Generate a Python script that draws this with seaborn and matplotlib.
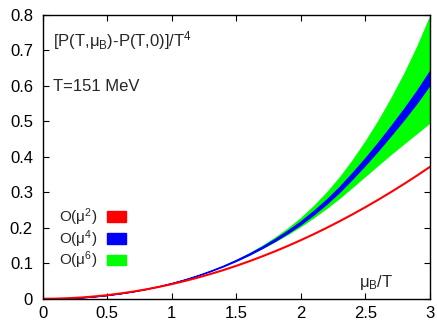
import matplotlib

matplotlib.use("Agg")

import matplotlib.pyplot as plt
import pandas as pd
import seaborn as sns
from matplotlib.patches import Patch
from matplotlib.ticker import FormatStrFormatter, MultipleLocator

# mu_B/T grid (step 0.1)
mu_over_t = [0.0, 0.1, 0.2, 0.3, 0.4, 0.5, 0.6, 0.7, 0.8, 0.9,
             1.0, 1.1, 1.2, 1.3, 1.4, 1.5, 1.6, 1.7, 1.8, 1.9,
             2.0, 2.1, 2.2, 2.3, 2.4, 2.5, 2.6, 2.7, 2.8, 2.9, 3.0]

# O(mu^2): single red line
order2 = [0.0, 0.0004, 0.0017, 0.0037, 0.0066, 0.0103, 0.0149, 0.0202, 0.0264, 0.0335,
          0.0413, 0.0500, 0.0595, 0.0698, 0.0809, 0.0929, 0.1057, 0.1194, 0.1338, 0.1491,
          0.1652, 0.1821, 0.1999, 0.2185, 0.2379, 0.2581, 0.2792, 0.3011, 0.3238, 0.3473,
          0.3717]

# O(mu^4): blue band, centre and half width
order4 = [0.0, 0.0004, 0.0017, 0.0037, 0.0067, 0.0105, 0.0153, 0.0209, 0.0277, 0.0355,
          0.0444, 0.0545, 0.0659, 0.0786, 0.0927, 0.1085, 0.1259, 0.1451, 0.1661, 0.1892,
          0.2145, 0.2430, 0.2741, 0.3087, 0.3471, 0.3874, 0.4300, 0.4748, 0.5211, 0.5701,
          0.6232]
order4_err = [0.0, 0.0, 0.0, 0.0, 0.0, 0.0001, 0.0001, 0.0002, 0.0002, 0.0003,
              0.0004, 0.0006, 0.0007, 0.0010, 0.0012, 0.0016, 0.0020, 0.0024, 0.0030, 0.0036,
              0.0043, 0.0052, 0.0061, 0.0072, 0.0085, 0.0098, 0.0114, 0.0131, 0.0151, 0.0172,
              0.0196]

# O(mu^6): green band, lower and upper edge
order6_low = [0.0, 0.0004, 0.0017, 0.0037, 0.0067, 0.0105, 0.0153, 0.0209, 0.0277, 0.0355,
              0.0442, 0.0542, 0.0654, 0.0778, 0.0914, 0.1065, 0.1230, 0.1409, 0.1601, 0.1809,
              0.2032, 0.2279, 0.2542, 0.2827, 0.3135, 0.3445, 0.3757, 0.4067, 0.4363, 0.4655,
              0.4950]
order6_high = [0.0, 0.0004, 0.0017, 0.0037, 0.0067, 0.0105, 0.0153, 0.0209, 0.0278, 0.0356,
               0.0446, 0.0549, 0.0666, 0.0798, 0.0945, 0.1113, 0.1300, 0.1510, 0.1744, 0.2006,
               0.2300, 0.2638, 0.3016, 0.3446, 0.3934, 0.4466, 0.5049, 0.5688, 0.6380, 0.7143,
               0.8000]

df = pd.DataFrame({
    "x": mu_over_t,
    "o2": order2,
    "o4": order4,
    "o4_err": order4_err,
    "o6_low": order6_low,
    "o6_high": order6_high,
})

sns.set_theme(style="ticks")
plt.rcParams["font.family"] = ["Liberation Sans", "DejaVu Sans"]
plt.rcParams["mathtext.default"] = "regular"
plt.rcParams["font.size"] = 12

fig = plt.figure(figsize=(4.38, 3.21), dpi=100)
ax = fig.add_axes([0.0975, 0.0692, 0.8842, 0.8847])

ax.fill_between(df["x"], df["o6_low"], df["o6_high"], color="#00ff00", linewidth=0)
ax.fill_between(df["x"], df["o4"] - df["o4_err"], df["o4"] + df["o4_err"],
                color="#0000ff", edgecolor="#0000ff", linewidth=0.8)
sns.lineplot(data=df, x="x", y="o2", ax=ax, color="#ff0000", linewidth=1.5)

ax.set_xlim(0, 3)
ax.set_ylim(0, 0.8)
ax.xaxis.set_major_locator(MultipleLocator(0.5))
ax.yaxis.set_major_locator(MultipleLocator(0.1))
ax.xaxis.set_major_formatter(FormatStrFormatter("%g"))
ax.yaxis.set_major_formatter(FormatStrFormatter("%g"))
ax.tick_params(axis="both", direction="in", top=True, right=True, length=4, width=0.8,
               labelsize=12, colors="black")
ax.tick_params(axis="x", pad=5)
ax.tick_params(axis="y", pad=7)
ax.set_xlabel("")
ax.set_ylabel("")
for side in ax.spines.values():
    side.set_linewidth(1.0)
    side.set_color("black")

ax.text(0.027, 0.888, "[P(T,μ$_B$)-P(T,0)]/T$^4$", transform=ax.transAxes,
        ha="left", va="baseline", fontsize=12)
ax.text(0.027, 0.733, "T=151 MeV", transform=ax.transAxes,
        ha="left", va="baseline", fontsize=12)
ax.text(2.585, 0.045, "μ$_B$/T", ha="center", va="center", fontsize=12)

handles = [
    Patch(color="#ff0000", label="O(μ$^2$)"),
    Patch(color="#0000ff", label="O(μ$^4$)"),
    Patch(color="#00ff00", label="O(μ$^6$)"),
]
ax.legend(handles=handles, loc="upper left", bbox_to_anchor=(0.043, 0.325),
          frameon=False, markerfirst=False, borderpad=0, borderaxespad=0,
          handlelength=1.25, handleheight=0.7, handletextpad=0.6,
          labelspacing=0.0, fontsize=11)

fig.savefig("out.png", dpi=100)
plt.close(fig)
